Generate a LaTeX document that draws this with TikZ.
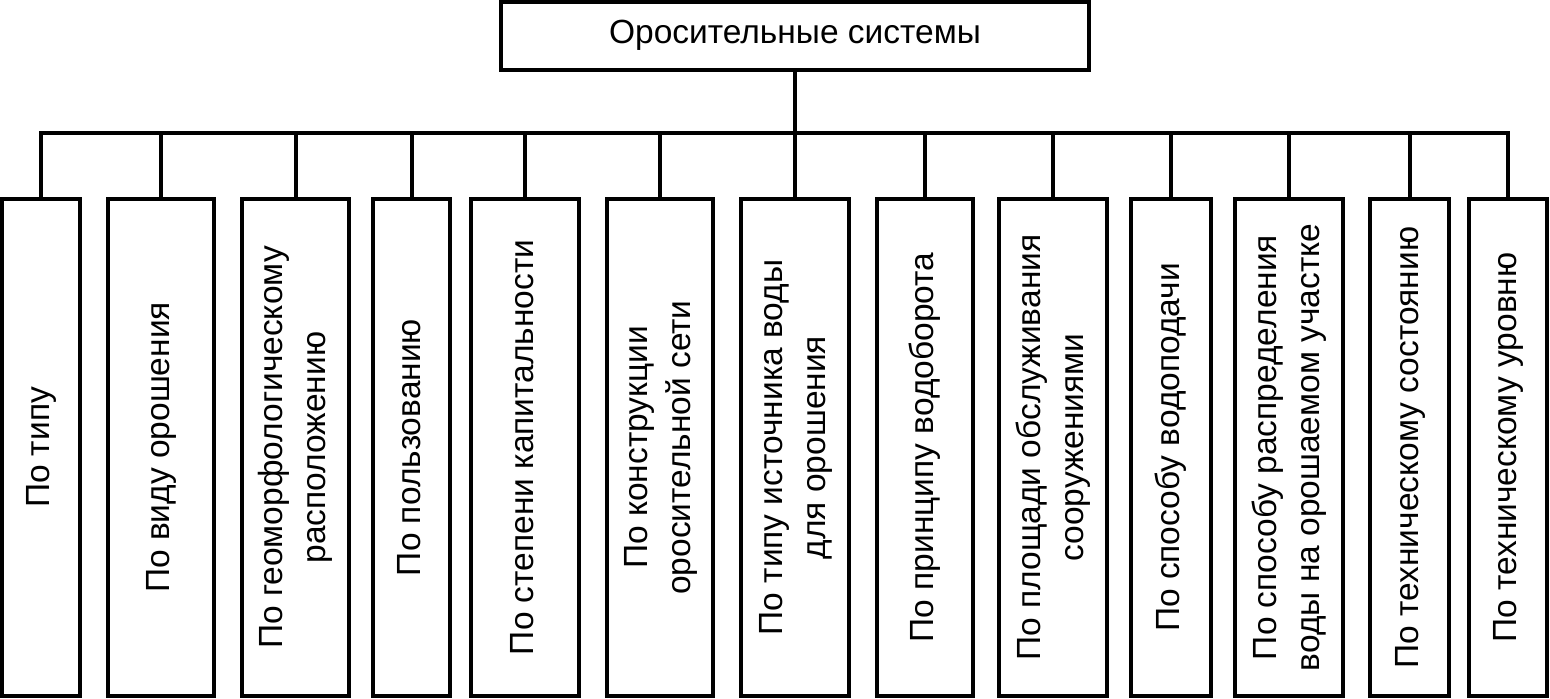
\documentclass[tikz,border=0pt]{standalone}
\usepackage{fontspec}
\setmainfont{Liberation Sans}
\usepackage{graphicx}
\newcommand{\vtxt}[1]{\rotatebox{90}{\begin{tabular}{@{}c@{}}#1\end{tabular}}}
\begin{document}
\begin{tikzpicture}[x=0.5pt,y=-0.5pt,
  every node/.style={font=\fontsize{16.75pt}{21.5pt}\selectfont, inner sep=0pt, outer sep=0pt},
  topbox/.style={draw, line width=2pt, minimum width=294pt, minimum height=33.75pt},
  catbox/.style={draw, line width=2pt, minimum height=248.5pt},
  link/.style={line width=2pt}
]
\useasboundingbox (0,0) rectangle (1550,698);
\node[topbox] (root) at (795,35.75) {Оросительные системы};
\node[catbox, minimum width=39pt]   (b1)  at (41,447.5)    {\vtxt{По типу}};
\node[catbox, minimum width=53pt]   (b2)  at (161,447.5)   {\vtxt{По виду орошения}};
\node[catbox, minimum width=53.5pt] (b3)  at (295.5,447.5) {\vtxt{По геоморфологическому\\расположению}};
\node[catbox, minimum width=38.5pt] (b4)  at (411.5,447.5) {\vtxt{По пользованию}};
\node[catbox, minimum width=54pt]   (b5)  at (525,447.5)   {\vtxt{По степени капитальности}};
\node[catbox, minimum width=53pt]   (b6)  at (660,447.5)   {\vtxt{По конструкции\\оросительной сети}};
\node[catbox, minimum width=54pt]   (b7)  at (795,447.5)   {\vtxt{По типу источника воды\\для орошения}};
\node[catbox, minimum width=48pt]   (b8)  at (925,447.5)   {\vtxt{По принципу водоборота}};
\node[catbox, minimum width=54pt]   (b9)  at (1053,447.5)  {\vtxt{По площади обслуживания\\сооружениями}};
\node[catbox, minimum width=40pt]   (b10) at (1171,447.5)  {\vtxt{По способу водоподачи}};
\node[catbox, minimum width=54pt]   (b11) at (1289,447.5)  {\vtxt{По способу распределения\\воды на орошаемом участке}};
\node[catbox, minimum width=39.5pt] (b12) at (1409.5,447.5){\vtxt{По техническому состоянию}};
\node[catbox, minimum width=39pt]   (b13) at (1508,447.5)  {\vtxt{По техническому уровню}};
\coordinate (busL) at (41,133);
\coordinate (busR) at (1508,133);
\draw[link] (root.south) -- (root.south |- busL);
\draw[link, line cap=rect] (busL) -- (busR);
\foreach \b in {b1,b2,b3,b4,b5,b6,b7,b8,b9,b10,b11,b12,b13}
  \draw[link] (\b.north) -- (\b.north |- busL);
\end{tikzpicture}
\end{document}
